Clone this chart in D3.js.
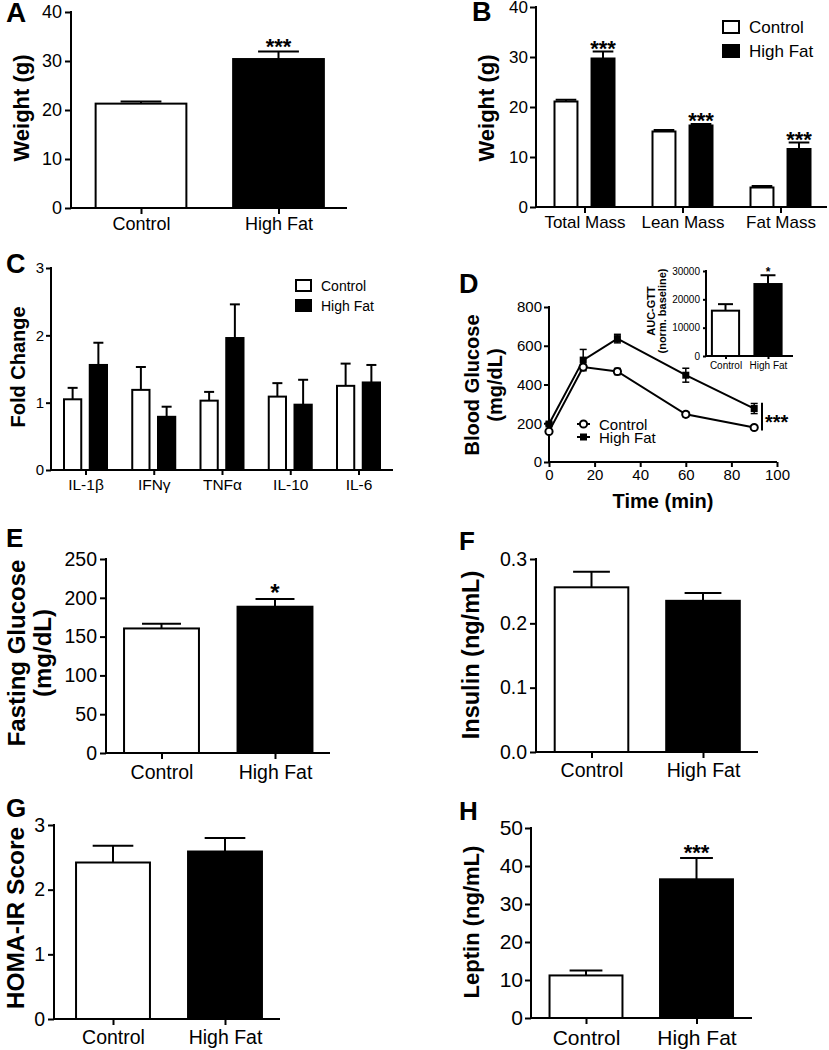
<!DOCTYPE html>
<html><head><meta charset="utf-8">
<script src="https://cdn.jsdelivr.net/npm/d3@7"></script>
<style>
body{margin:0;background:#fff}
svg{display:block;background:#fff}
text{font-family:Arial,"Liberation Sans",Helvetica,sans-serif;fill:#000}
</style>
</head><body>
<svg id="c" width="829" height="1050"></svg>
<script>
// ---------- DATA ----------
const groups2 = ["Control", "High Fat"];
// A: body weight
const weightMean = [21.3, 30.4];
const weightSem = [0.45, 1.55];
const weightSig = ["", "***"];
const weightTicks = [0, 10, 20, 30, 40];
// B: body composition
const compCategories = ["Total Mass", "Lean Mass", "Fat Mass"];
const compControl = [21.1, 15.1, 3.9];
const compControlSem = [0.35, 0.3, 0.3];
const compHighFat = [29.7, 16.3, 11.6];
const compHighFatSem = [1.4, 0.3, 1.3];
const compSig = ["***", "***", "***"];
const compTicks = [0, 10, 20, 30, 40];
// C: cytokines
const cytoCategories = ["IL-1β", "IFNγ", "TNFα", "IL-10", "IL-6"];
const cytoControl = [1.05, 1.19, 1.03, 1.09, 1.25];
const cytoControlSem = [0.17, 0.34, 0.13, 0.2, 0.33];
const cytoHighFat = [1.56, 0.79, 1.96, 0.97, 1.30];
const cytoHighFatSem = [0.33, 0.15, 0.5, 0.37, 0.26];
const cytoTicks = [0, 1, 2, 3];
// D: GTT
const gttTime = [0, 15, 30, 60, 90];
const gttControl = [158, 490, 467, 246, 178];
const gttControlSem = [6, 10, 16, 12, 7];
const gttHighFat = [196, 526, 637, 448, 276];
const gttHighFatSem = [8, 55, 22, 36, 26];
const gttYTicks = [0, 200, 400, 600, 800];
const gttXTicks = [0, 20, 40, 60, 80, 100];
// D inset: AUC
const aucMean = [16000, 25400];
const aucSem = [2300, 3100];
const aucSig = ["", "*"];
const aucTicks = [0, 10000, 20000, 30000];
// E: fasting glucose
const fastingMean = [160.5, 188.5];
const fastingSem = [6, 10];
const fastingSig = ["", "*"];
const fastingTicks = [0, 50, 100, 150, 200, 250];
// F: insulin
const insulinMean = [0.256, 0.235];
const insulinSem = [0.024, 0.012];
const insulinSig = ["", ""];
const insulinTicks = [0, 0.1, 0.2, 0.3];
// G: HOMA-IR
const homaMean = [2.42, 2.59];
const homaSem = [0.26, 0.21];
const homaSig = ["", ""];
const homaTicks = [0, 1, 2, 3];
// H: leptin
const leptinMean = [11.2, 36.5];
const leptinSem = [1.3, 5.6];
const leptinSig = ["", "***"];
const leptinTicks = [0, 10, 20, 30, 40, 50];

// ---------- HELPERS ----------
const svg = d3.select("#c");
const FONT = 'Arial, "Liberation Sans", Helvetica, sans-serif';
const fills = {"Control": "#fff", "High Fat": "#000"};

function styleAxis(a, fs) {
  a.attr("font-family", FONT).attr("font-size", fs);
  a.selectAll("path.domain").remove();
  a.selectAll(".tick line").attr("stroke", "#000").attr("stroke-width", 2);
  a.selectAll(".tick text").attr("fill", "#000");
}
function yAxis(x0, y, ticks, fmt, fs, pad, tl = 6) {
  const a = svg.append("g").attr("transform", `translate(${x0},0)`)
    .call(d3.axisLeft(y).tickValues(ticks).tickFormat(fmt).tickSize(tl).tickSizeOuter(0).tickPadding(pad));
  styleAxis(a, fs);
  const d = y.domain();
  svg.append("line").attr("x1", x0).attr("x2", x0)
    .attr("y1", y(d[0]) + 1).attr("y2", y(d[1]) - 1)
    .attr("stroke", "#000").attr("stroke-width", 2);
}
function xAxisCat(x0, x1, y0, xs, fs, baseDy, tl = 6) {
  svg.append("line").attr("x1", x0 - 1).attr("x2", x1).attr("y1", y0).attr("y2", y0)
    .attr("stroke", "#000").attr("stroke-width", 2);
  const pad = baseDy - tl - 0.71 * fs;
  const a = svg.append("g").attr("transform", `translate(0,${y0})`)
    .call(d3.axisBottom(xs).tickSize(tl).tickSizeOuter(0).tickPadding(pad));
  styleAxis(a, fs);
}
function yLabel(lines, x, y, fs, gap) {
  lines.forEach((t, i) => {
    svg.append("text").attr("transform", `translate(${x + i * gap},${y}) rotate(-90)`)
      .attr("text-anchor", "middle").attr("font-weight", "bold").attr("font-size", fs).text(t);
  });
}
function panelLetter(t, x, y, fs = 27) {
  svg.append("text").attr("x", x).attr("y", y).attr("font-weight", "bold").attr("font-size", fs).text(t);
}
function bar(cx, bw, y, mean, sem, fill, capW, sig, sigFs, sigOff) {
  const g = svg.append("g");
  const top = y(mean + sem);
  g.append("line").attr("x1", cx).attr("x2", cx).attr("y1", y(mean)).attr("y2", top)
    .attr("stroke", "#000").attr("stroke-width", 2);
  g.append("line").attr("x1", cx - capW / 2).attr("x2", cx + capW / 2).attr("y1", top).attr("y2", top)
    .attr("stroke", "#000").attr("stroke-width", 2);
  g.append("rect").attr("x", cx - bw / 2).attr("width", bw)
    .attr("y", y(mean)).attr("height", y(0) - y(mean))
    .attr("fill", fill).attr("stroke", "#000").attr("stroke-width", 2);
  if (sig) {
    g.append("text").attr("x", cx).attr("y", top + sigOff).attr("text-anchor", "middle")
      .attr("font-size", sigFs).attr("font-weight", "bold").text(sig);
  }
}
function twoBarPanel(o) {
  const y = d3.scaleLinear().domain([o.ticks[0], o.ticks[o.ticks.length - 1]]).range(o.yRange);
  const x = d3.scalePoint().domain(groups2).range(o.centers);
  const bw = o.bwFrac * x.step();
  groups2.forEach((gname, i) => {
    bar(x(gname), bw, y, o.mean[i], o.sem[i], fills[gname], bw * o.capFrac, o.sig[i], o.sigFs, o.sigOff);
  });
  yAxis(o.axisX, y, o.ticks, o.fmt, o.fs, o.ypad, o.tl || 6);
  xAxisCat(o.axisX, o.xEnd, y(0), x, o.fs, o.xDy, o.tl || 6);
}

// ---------- A ----------
panelLetter("A", 6, 22, 28);
twoBarPanel({mean: weightMean, sem: weightSem, sig: weightSig, ticks: weightTicks, fmt: d3.format("d"),
  yRange: [208, 12], centers: [141, 278.5], bwFrac: 0.66, capFrac: 0.45, axisX: 71, xEnd: 347,
  fs: 18, ypad: 3, xDy: 22, sigFs: 22, sigOff: 3});
yLabel(["Weight (g)"], 29, 108, 22, 0);

// ---------- B ----------
panelLetter("B", 472, 21, 27);
(function () {
  const y = d3.scaleLinear().domain([0, 40]).range([207, 7]);
  const x = d3.scalePoint().domain(compCategories).range([584.5, 780.5]);
  const sub = d3.scaleBand().domain(groups2).range([-30, 30]).paddingInner(0.38);
  const bw = sub.bandwidth();
  compCategories.forEach((c, i) => {
    bar(x(c) + sub("Control") + bw / 2, bw, y, compControl[i], compControlSem[i], "#fff", bw * 0.9, "", 0, 0);
    bar(x(c) + sub("High Fat") + bw / 2, bw, y, compHighFat[i], compHighFatSem[i], "#000", bw * 0.9, compSig[i], 22, 4);
  });
  yAxis(536, y, compTicks, d3.format("d"), 17, 2);
  xAxisCat(536, 827, y(0), x, 17, 21);
  yLabel(["Weight (g)"], 494, 108, 22, 0);
  // legend
  const lg = svg.append("g");
  groups2.forEach((gname, i) => {
    lg.append("rect").attr("x", 723).attr("y", 21 + i * 24).attr("width", 16).attr("height", 12)
      .attr("fill", fills[gname]).attr("stroke", "#000").attr("stroke-width", 2);
    lg.append("text").attr("x", 749).attr("y", 33 + i * 24).attr("font-size", 17).text(gname);
  });
})();

// ---------- C ----------
panelLetter("C", 6, 273, 27);
(function () {
  const y = d3.scaleLinear().domain([0, 3]).range([470, 268]);
  const x = d3.scalePoint().domain(cytoCategories).range([85.5, 358.5]);
  const sub = d3.scaleBand().domain(groups2).range([-21.5, 21.5]).paddingInner(0.33);
  const bw = sub.bandwidth();
  cytoCategories.forEach((c, i) => {
    bar(x(c) + sub("Control") + bw / 2, bw, y, cytoControl[i], cytoControlSem[i], "#fff", 10, "", 0, 0);
    bar(x(c) + sub("High Fat") + bw / 2, bw, y, cytoHighFat[i], cytoHighFatSem[i], "#000", 10, "", 0, 0);
  });
  yAxis(51, y, cytoTicks, d3.format("d"), 15, 2, 5);
  xAxisCat(51, 393, y(0), x, 15.5, 20, 5);
  yLabel(["Fold Change"], 25, 367, 20, 0);
  const lg = svg.append("g");
  groups2.forEach((gname, i) => {
    lg.append("rect").attr("x", 296).attr("y", 280 + i * 20).attr("width", 15).attr("height", 11)
      .attr("fill", fills[gname]).attr("stroke", "#000").attr("stroke-width", 2);
    lg.append("text").attr("x", 321).attr("y", 291 + i * 20).attr("font-size", 14).text(gname);
  });
})();

// ---------- D ----------
panelLetter("D", 459, 293, 27);
(function () {
  const y = d3.scaleLinear().domain([0, 800]).range([462, 307]);
  const x = d3.scaleLinear().domain([0, 100]).range([549, 777]);
  // axes
  yAxis(549, y, gttYTicks, d3.format("d"), 15, 2, 5);
  svg.append("line").attr("x1", 548).attr("x2", 777).attr("y1", 462).attr("y2", 462)
    .attr("stroke", "#000").attr("stroke-width", 2);
  const ax = svg.append("g").attr("transform", "translate(0,462)")
    .call(d3.axisBottom(x).tickValues(gttXTicks).tickFormat(d3.format("d")).tickSize(5).tickSizeOuter(0).tickPadding(2.5));
  styleAxis(ax, 15);
  yLabel(["Blood Glucose", "(mg/dL)"], 479, 385, 20, 23);
  svg.append("text").attr("x", 663).attr("y", 508).attr("text-anchor", "middle")
    .attr("font-weight", "bold").attr("font-size", 20).text("Time (min)");

  const series = [
    {name: "High Fat", v: gttHighFat, e: gttHighFatSem, marker: "square"},
    {name: "Control", v: gttControl, e: gttControlSem, marker: "circle"}
  ];
  const line = d3.line().x((d) => x(d[0])).y((d) => y(d[1]));
  series.forEach((s) => {
    const pts = gttTime.map((t, i) => [t, s.v[i], s.e[i]]);
    svg.append("path").attr("d", line(pts)).attr("fill", "none").attr("stroke", "#000").attr("stroke-width", 2);
    const g = svg.append("g");
    pts.forEach((p) => {
      const cx = x(p[0]);
      g.append("line").attr("x1", cx).attr("x2", cx).attr("y1", y(p[1] - p[2])).attr("y2", y(p[1] + p[2]))
        .attr("stroke", "#000").attr("stroke-width", 1.5);
      [p[1] - p[2], p[1] + p[2]].forEach((v) => {
        g.append("line").attr("x1", cx - 3.5).attr("x2", cx + 3.5).attr("y1", y(v)).attr("y2", y(v))
          .attr("stroke", "#000").attr("stroke-width", 1.5);
      });
      if (s.marker === "square") {
        g.append("rect").attr("x", cx - 3.5).attr("y", y(p[1]) - 3.5).attr("width", 7).attr("height", 7).attr("fill", "#000");
      } else {
        g.append("circle").attr("cx", cx).attr("cy", y(p[1])).attr("r", 3.6)
          .attr("fill", "#fff").attr("stroke", "#000").attr("stroke-width", 2);
      }
    });
  });
  // significance bracket
  svg.append("line").attr("x1", 762).attr("x2", 762).attr("y1", y(gttHighFat[4] + 30)).attr("y2", y(gttControl[4] - 15))
    .attr("stroke", "#000").attr("stroke-width", 2);
  svg.append("text").attr("x", 765).attr("y", 429).attr("font-size", 20).attr("font-weight", "bold").text("***");
  // legend
  const lg = svg.append("g");
  lg.append("line").attr("x1", 577).attr("x2", 590).attr("y1", 424).attr("y2", 424).attr("stroke", "#000").attr("stroke-width", 2);
  lg.append("circle").attr("cx", 583.5).attr("cy", 424).attr("r", 3.6).attr("fill", "#fff").attr("stroke", "#000").attr("stroke-width", 2);
  lg.append("text").attr("x", 599).attr("y", 430).attr("font-size", 15).text("Control");
  lg.append("line").attr("x1", 577).attr("x2", 590).attr("y1", 437).attr("y2", 437).attr("stroke", "#000").attr("stroke-width", 2);
  lg.append("rect").attr("x", 580).attr("y", 433.5).attr("width", 7).attr("height", 7).attr("fill", "#000");
  lg.append("text").attr("x", 599).attr("y", 443).attr("font-size", 15).text("High Fat");

  // inset
  twoBarPanel({mean: aucMean, sem: aucSem, sig: aucSig, ticks: aucTicks, fmt: d3.format("d"),
    yRange: [356, 271], centers: [725.5, 768], bwFrac: 0.64, capFrac: 0.55, axisX: 706, xEnd: 793,
    fs: 10, ypad: 3, xDy: 13, sigFs: 12, sigOff: 1, tl: 3});
  yLabel(["AUC-GTT", "(norm. baseline)"], 655, 311, 11, 11);
})();

// ---------- E ----------
panelLetter("E", 6, 547, 26);
twoBarPanel({mean: fastingMean, sem: fastingSem, sig: fastingSig, ticks: fastingTicks, fmt: d3.format("d"),
  yRange: [753, 559], centers: [161.5, 275], bwFrac: 0.66, capFrac: 0.52, axisX: 106, xEnd: 330,
  fs: 19.5, ypad: 3, xDy: 26, sigFs: 24, sigOff: 2});
yLabel(["Fasting Glucose", "(mg/dL)"], 25, 653, 24, 26);

// ---------- F ----------
panelLetter("F", 459, 550, 26);
twoBarPanel({mean: insulinMean, sem: insulinSem, sig: insulinSig, ticks: insulinTicks, fmt: d3.format(".1f"),
  yRange: [752, 559], centers: [591.5, 703], bwFrac: 0.66, capFrac: 0.5, axisX: 536, xEnd: 758,
  fs: 19.5, ypad: 3, xDy: 25, sigFs: 22, sigOff: 3});
yLabel(["Insulin (ng/mL)"], 479, 655, 23.5, 0);

// ---------- G ----------
panelLetter("G", 6, 817, 26);
twoBarPanel({mean: homaMean, sem: homaSem, sig: homaSig, ticks: homaTicks, fmt: d3.format("d"),
  yRange: [1019, 825], centers: [113, 225], bwFrac: 0.66, capFrac: 0.55, axisX: 54, xEnd: 280,
  fs: 19.5, ypad: 3, xDy: 25, sigFs: 22, sigOff: 3});
yLabel(["HOMA-IR Score"], 24, 918, 24.5, 0);

// ---------- H ----------
panelLetter("H", 459, 820, 26);
twoBarPanel({mean: leptinMean, sem: leptinSem, sig: leptinSig, ticks: leptinTicks, fmt: d3.format("d"),
  yRange: [1018, 828], centers: [586, 696.5], bwFrac: 0.66, capFrac: 0.45, axisX: 531, xEnd: 752,
  fs: 21, ypad: 2, xDy: 27, sigFs: 22, sigOff: 2});
yLabel(["Leptin (ng/mL)"], 479, 922, 22, 0);
</script>
</body></html>
